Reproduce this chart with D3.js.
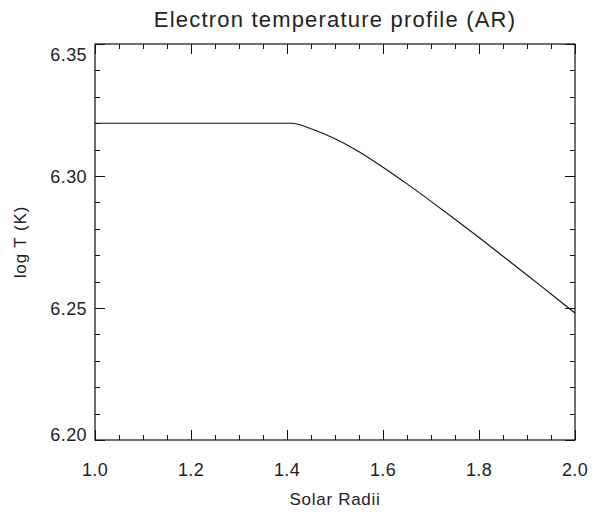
<!DOCTYPE html>
<html>
<head>
<meta charset="utf-8">
<script src="https://cdn.jsdelivr.net/npm/d3@7"></script>
<style>
  html, body { margin: 0; padding: 0; background: #fff; }
  svg { display: block; }
  text { font-family: "Liberation Sans", Arial, Helvetica, sans-serif; fill: #222; }
</style>
</head>
<body>
<svg id="chart" width="592" height="512"></svg>
<script>
// ---- data ----
const title = "Electron temperature profile (AR)";
const xLabel = "Solar Radii";
const yLabel = "log T (K)";
const radii = [1.00, 1.41, 1.45, 1.50, 1.55, 1.60, 1.65, 1.70, 1.75, 1.80, 1.85, 1.90, 1.95, 2.00];
const logT  = [6.320, 6.320, 6.3179, 6.3141, 6.3092, 6.3033, 6.2970, 6.2904, 6.2836, 6.2767, 6.2696, 6.2625, 6.2553, 6.2481];
const xTicks = [1.0, 1.2, 1.4, 1.6, 1.8, 2.0];
const yTicks = [6.20, 6.25, 6.30, 6.35];
const xDomain = [1.0, 2.0];
const yDomain = [6.20, 6.35];

// ---- layout ----
const svg = d3.select("#chart");
const L = 95, R = 575, T = 44, B = 440;
const x = d3.scaleLinear().domain(xDomain).range([L, R]);
const y = d3.scaleLinear().domain(yDomain).range([B, T]);

const xMinor = d3.range(0, 21).map(i => xDomain[0] + i * 0.05);
const yMinor = d3.range(0, 16).map(i => yDomain[0] + i * 0.01);
const isMajor = (v, step) => Math.abs(v / step - Math.round(v / step)) < 1e-6;

const g = svg.append("g");
// frame
g.append("rect").attr("x", L).attr("y", T).attr("width", R - L).attr("height", B - T)
  .attr("fill", "none").attr("stroke", "#111").attr("stroke-width", 1.2);

// ticks
const tickG = g.append("g").attr("stroke", "#111").attr("stroke-width", 1);
xMinor.forEach(v => {
  const len = isMajor(v, 0.2) ? 10 : 5;
  const px = Math.round(x(v)) + 0.5;
  tickG.append("line").attr("x1", px).attr("x2", px).attr("y1", B).attr("y2", B - len);
  tickG.append("line").attr("x1", px).attr("x2", px).attr("y1", T).attr("y2", T + len);
});
yMinor.forEach(v => {
  const len = isMajor(v, 0.05) ? 10 : 5;
  const py = Math.round(y(v)) + 0.5;
  tickG.append("line").attr("x1", L).attr("x2", L + len).attr("y1", py).attr("y2", py);
  tickG.append("line").attr("x1", R).attr("x2", R - len).attr("y1", py).attr("y2", py);
});

// tick labels
g.selectAll(".xl").data(xTicks).enter().append("text")
  .attr("x", d => x(d)).attr("y", B + 36)
  .attr("text-anchor", "middle").attr("font-size", 18).attr("letter-spacing", 0.4)
  .text(d => d.toFixed(1));

g.selectAll(".yl").data(yTicks).enter().append("text")
  .attr("x", L - 8)
  .attr("y", (d, i) => {
    if (i === 0) return y(d) + 1;
    if (i === yTicks.length - 1) return y(d) + 17;
    return y(d) + 7;
  })
  .attr("text-anchor", "end").attr("font-size", 18).attr("letter-spacing", 0.4)
  .text(d => d.toFixed(2));

// axis titles
g.append("text").attr("x", (L + R) / 2).attr("y", 505)
  .attr("text-anchor", "middle").attr("font-size", 17).attr("letter-spacing", 0.7).text(xLabel);
g.append("text").attr("transform", `translate(26, ${(T + B) / 2}) rotate(-90)`)
  .attr("text-anchor", "middle").attr("font-size", 17).attr("letter-spacing", 0.9).text(yLabel);
g.append("text").attr("x", (L + R) / 2).attr("y", 27)
  .attr("text-anchor", "middle").attr("font-size", 22).attr("letter-spacing", 1.2).text(title);

// line
const pts = radii.map((r, i) => [r, logT[i]]);
const line = d3.line().x(d => x(d[0])).y(d => y(d[1])).curve(d3.curveMonotoneX);
g.append("path").datum(pts).attr("d", line)
  .attr("fill", "none").attr("stroke", "#111").attr("stroke-width", 1.1);
</script>
</body>
</html>
